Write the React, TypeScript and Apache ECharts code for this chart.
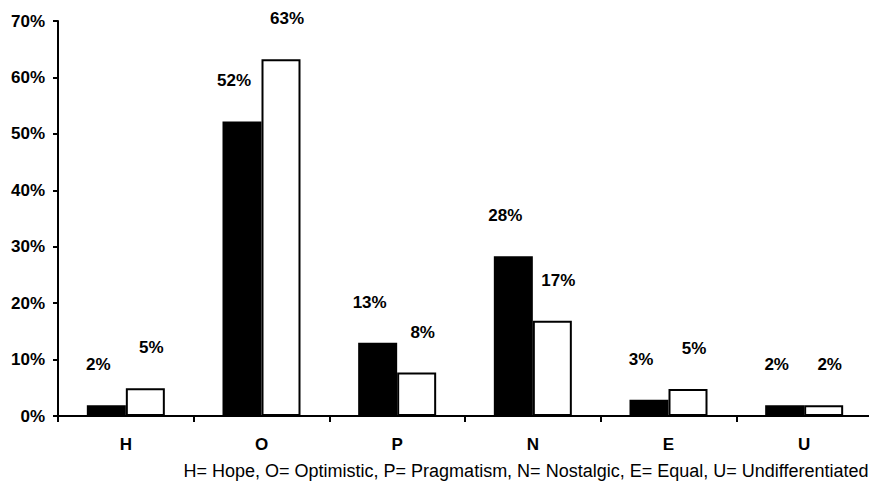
import React, { useEffect, useRef } from "react";
import * as echarts from "echarts";

const categories = ["H", "O", "P", "N", "E", "U"];
const seriesBlack = [1.9, 52.2, 13.0, 28.3, 2.9, 1.9];
const seriesWhite = [4.9, 63.2, 7.7, 16.9, 4.8, 1.9];
const footnote =
  "H= Hope, O= Optimistic, P= Pragmatism, N= Nostalgic, E= Equal, U= Undifferentiated";

const SANS = "'Liberation Sans', Arial, sans-serif";

export default function App() {
  const ref = useRef<HTMLDivElement>(null);
  useEffect(() => {
    if (!ref.current) return;
    const chart = echarts.init(ref.current, undefined, { renderer: "svg" });
    const labelBase = {
      show: true,
      position: "top" as const,
      distance: 0,
      color: "#000",
      fontFamily: SANS,
      fontWeight: "bold" as const,
      fontSize: 17,
      formatter: (p: any) => Math.round(p.value) + "%",
    };
    chart.setOption({
      animation: false,
      backgroundColor: "#fff",
      grid: { left: 58, right: 5, top: 21, bottom: 75, containLabel: false },
      xAxis: {
        type: "category",
        data: categories,
        axisLine: { lineStyle: { color: "#000", width: 2 } },
        axisTick: { show: true, length: 6, lineStyle: { color: "#000", width: 2 } },
        axisLabel: {
          color: "#000",
          fontFamily: SANS,
          fontWeight: "bold",
          fontSize: 17,
          margin: 20,
        },
        splitLine: { show: false },
      },
      yAxis: {
        type: "value",
        min: 0,
        max: 70,
        interval: 10,
        axisLine: { show: true, lineStyle: { color: "#000", width: 2 } },
        axisTick: { show: true, length: 5, lineStyle: { color: "#000", width: 2 } },
        axisLabel: {
          color: "#000",
          fontFamily: SANS,
          fontWeight: "bold",
          fontSize: 17,
          margin: 13,
          formatter: "{value}%",
        },
        splitLine: { show: false },
      },
      series: [
        {
          type: "bar",
          data: seriesBlack,
          barWidth: 39,
          barGap: "0%",
          itemStyle: { color: "#000", borderColor: "#000", borderWidth: 2 },
          label: { ...labelBase, offset: [-8, -32] },
        },
        {
          type: "bar",
          data: seriesWhite,
          barWidth: 39,
          barGap: "0%",
          itemStyle: { color: "#fff", borderColor: "#000", borderWidth: 2 },
          label: { ...labelBase, offset: [6, -32] },
        },
      ],
      graphic: [
        {
          type: "text",
          x: 526,
          y: 471,
          style: {
            text: footnote,
            fill: "#000",
            fontFamily: SANS,
            fontSize: 18,
            textAlign: "center",
            textVerticalAlign: "middle",
          },
        },
      ],
    });
    return () => chart.dispose();
  }, []);
  return <div ref={ref} style={{ width: 877, height: 491, margin: -8 }} />;
}
